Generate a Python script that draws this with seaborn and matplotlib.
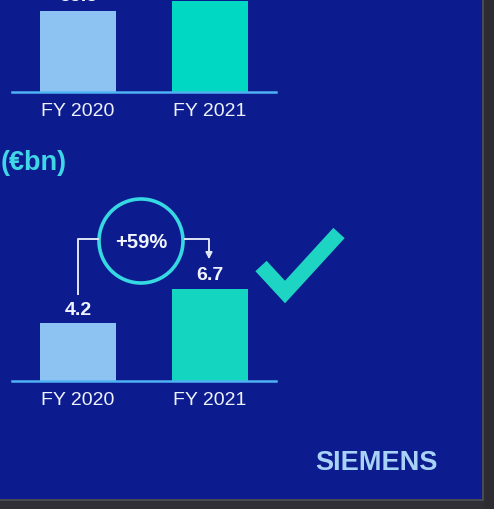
import matplotlib
matplotlib.use('Agg')
import matplotlib.pyplot as plt
import seaborn as sns
import pandas as pd
from matplotlib.patches import Circle, Rectangle

# data
years = ['FY 2020', 'FY 2021']
top_values = [55.3, 62.3]          # upper chart, cut off by the photo
bottom_values = [4.2, 6.7]         # (€bn)
bottom_labels = ['4.2', '6.7']
growth_label = '+59%'
unit_label = '(€bn)'
brand = 'SIEMENS'

bg = '#0c1c8e'
bar_colors = ['#8cc3f2', '#14d6c0']

sns.set_theme(style='white')
plt.rcParams['font.family'] = ['Liberation Sans', 'DejaVu Sans']

W, H = 494, 510
fig = plt.figure(figsize=(W / 100, H / 100), dpi=100)
fig.patch.set_facecolor(bg)


def px_axes(left, bottom_from_top, width, height):
    # axes placed in pixel coordinates of the picture (y measured from top)
    return fig.add_axes([left / W, (H - bottom_from_top) / H, width / W, height / H])


def style_axes(ax, ymax):
    ax.set_facecolor('none')
    ax.set_xlim(-0.5, 1.5)
    ax.set_ylim(0, ymax)
    for s in ['top', 'right', 'left']:
        ax.spines[s].set_visible(False)
    ax.spines['bottom'].set_color('#4fb2f2')
    ax.spines['bottom'].set_linewidth(1.8)
    ax.set_yticks([])
    ax.set_xlabel('')
    ax.set_ylabel('')
    ax.tick_params(axis='x', length=0, pad=7, labelsize=14, colors='#eef2fc')


# upper chart (partially visible)
df_top = pd.DataFrame({'year': years, 'value': top_values})
ax_top = px_axes(12, 93, 264, 125)
sns.barplot(data=df_top, x='year', y='value', hue='year', palette=['#8cc3f2', '#00d8c4'],
            width=0.57, saturation=1, legend=False, linewidth=0, edgecolor='none', ax=ax_top)
style_axes(ax_top, 125 / 1.465)
# only the FY 2020 label peeks into the photo
ax_top.annotate(f'{top_values[0]:.1f}', (0, top_values[0]), xytext=(0, 5), textcoords='offset points',
                ha='center', va='bottom', fontsize=14, fontweight='bold', color='#f0f4ff')

# lower chart
df_bot = pd.DataFrame({'year': years, 'value': bottom_values})
ax_bot = px_axes(12, 382, 264, 210)
sns.barplot(data=df_bot, x='year', y='value', hue='year', palette=bar_colors,
            width=0.57, saturation=1, legend=False, linewidth=0, edgecolor='none', ax=ax_bot)
style_axes(ax_bot, 210 / 13.75)
for i, (v, lab) in enumerate(zip(bottom_values, bottom_labels)):
    ax_bot.annotate(lab, (i, v), xytext=(0, 4), textcoords='offset points',
                    ha='center', va='bottom', fontsize=14, fontweight='bold', color='#f0f4ff')

# overlay in pixel coordinates for the decorations
ov = fig.add_axes([0, 0, 1, 1])
ov.set_xlim(0, W)
ov.set_ylim(H, 0)
ov.axis('off')
ov.patch.set_alpha(0)

ov.text(1, 163, unit_label, ha='left', va='center', fontsize=19.5, fontweight='bold', color='#3fd6e6')

# growth bubble with connector
ov.add_patch(Circle((141, 242), 42, fill=False, lw=2.6, ec='#36d8e2'))
ov.text(141, 243, growth_label, ha='center', va='center', fontsize=14.5, fontweight='bold', color='#f0f4ff')
ov.plot([78, 78, 99], [296, 240, 240], color='#dfe6f5', lw=1.4, solid_capstyle='butt')
ov.plot([184, 209, 209], [240, 240, 254], color='#dfe6f5', lw=1.4, solid_capstyle='butt')
ov.annotate('', xy=(209, 263), xytext=(209, 252),
            arrowprops=dict(arrowstyle='-|>', color='#dfe6f5', lw=1.2, mutation_scale=10))

# check mark
ov.plot([261, 285, 339], [267, 293, 234], color='#1ed4c2', lw=11,
        solid_capstyle='butt', solid_joinstyle='miter')

ov.text(376, 463, brand, ha='center', va='center', fontsize=19.5, fontweight='bold', color='#a9d3f6')

# monitor bezel
ov.add_patch(Rectangle((482, 0), 12, H, color='#2c2c32', lw=0))
ov.add_patch(Rectangle((482, 0), 2, H, color='#4a4a52', lw=0))
ov.add_patch(Rectangle((0, 501), 484, 9, color='#2f2f35', lw=0))
ov.add_patch(Rectangle((0, 500), 484, 2, color='#4a4a52', lw=0))

fig.savefig('out.png', dpi=100, facecolor=bg)
